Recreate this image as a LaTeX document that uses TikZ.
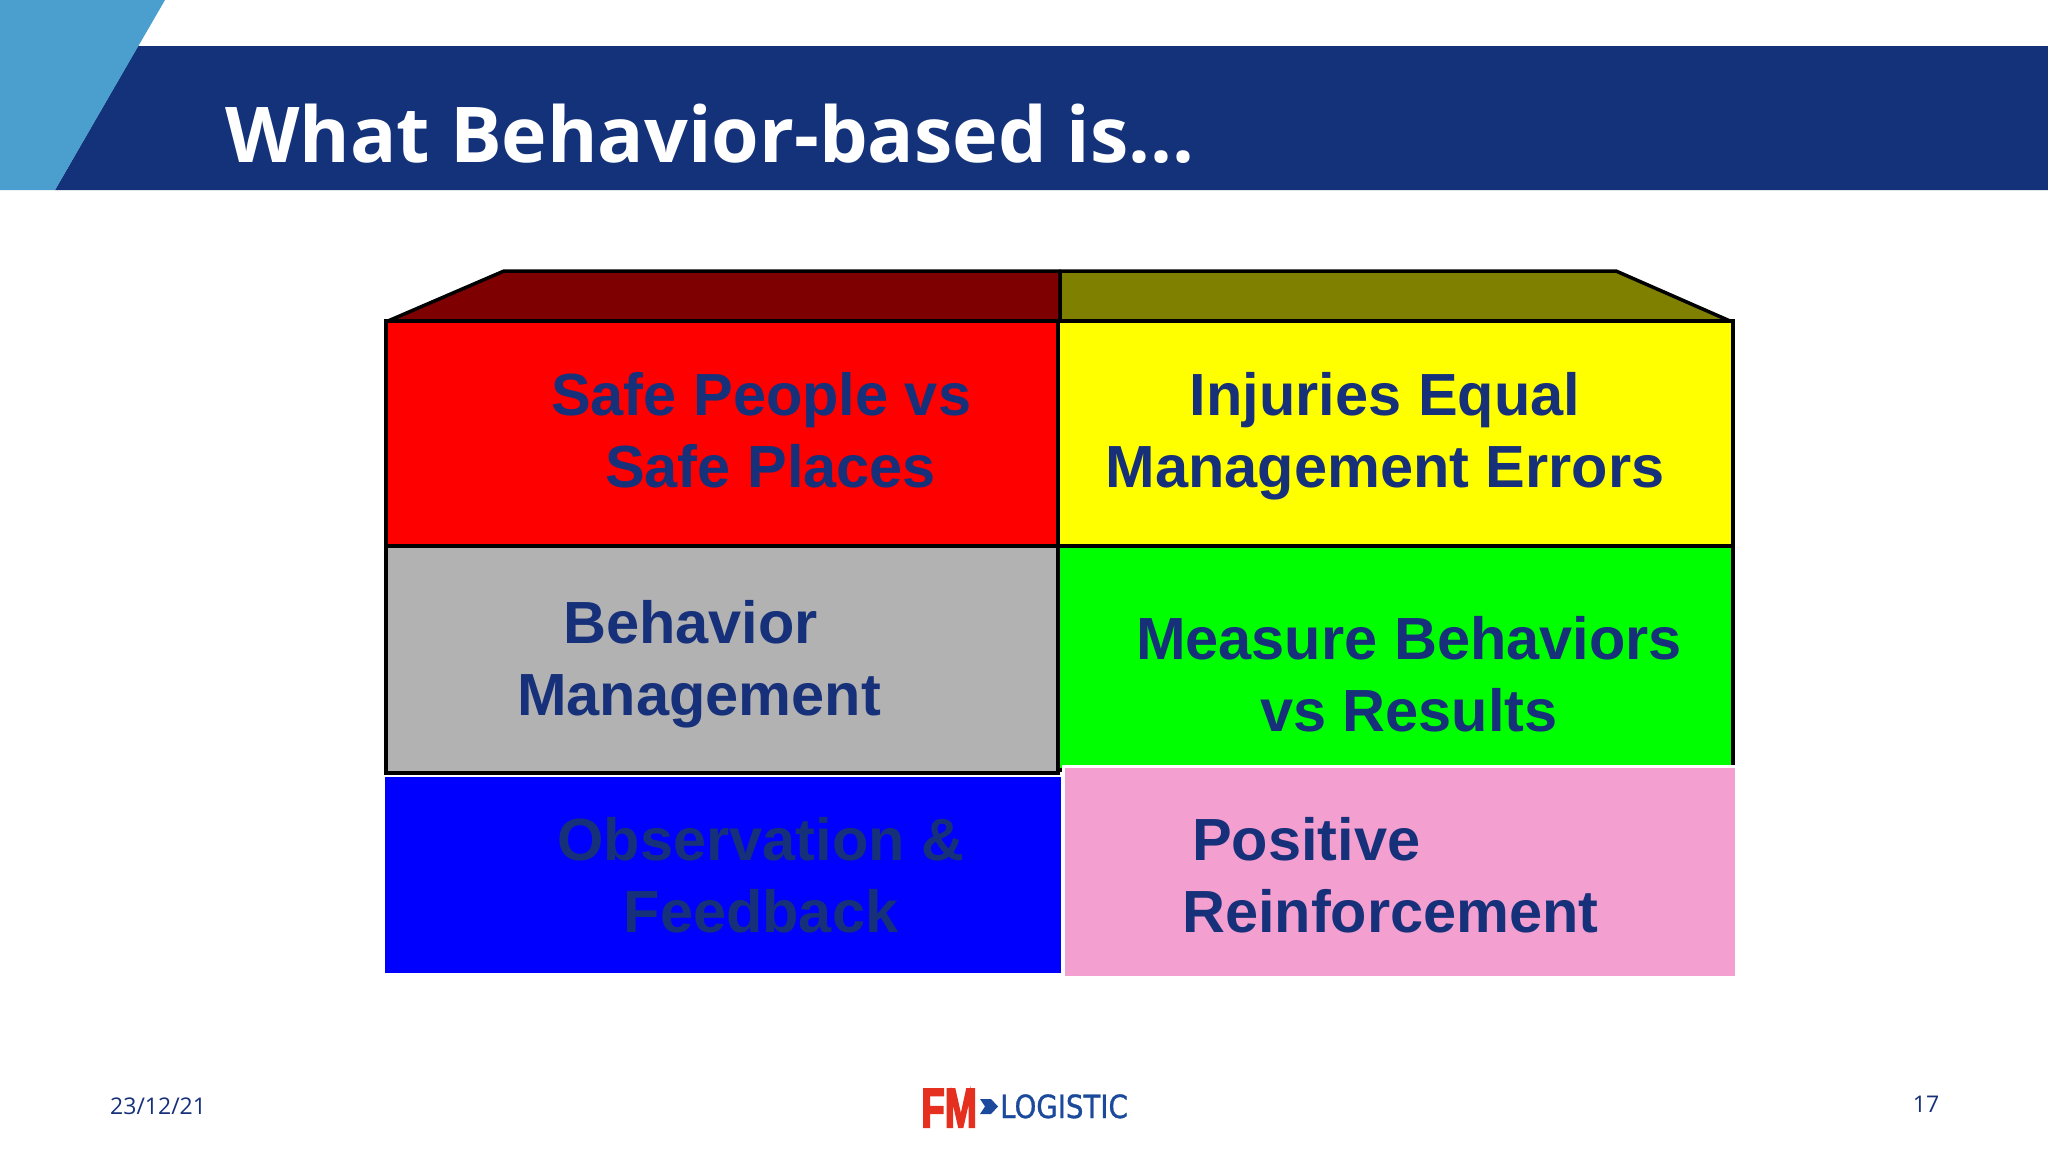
\documentclass[tikz,border=0pt]{standalone}
\usepackage{fontspec}
\setmainfont{Liberation Sans}
\newfontfamily\titlefont{Open Sans}
\newfontfamily\logofont[FakeBold=4]{Liberation Sans}
\newfontfamily\logothin[FakeBold=1]{DejaVu Sans}
\definecolor{bandblue}{HTML}{13327A}
\definecolor{lightblue}{HTML}{4A9FCE}
\definecolor{textblue}{HTML}{17307A}
\definecolor{darkred}{HTML}{7F0000}
\definecolor{olive}{HTML}{7F7F00}
\definecolor{cellred}{HTML}{FF0000}
\definecolor{cellyellow}{HTML}{FFFF00}
\definecolor{cellgreen}{HTML}{00FF00}
\definecolor{cellblue}{HTML}{0000FF}
\definecolor{cellgray}{HTML}{B2B2B2}
\definecolor{cellpink}{HTML}{F39FCF}
\definecolor{logored}{HTML}{E5301F}
\definecolor{logoblue}{HTML}{1B4A9C}
\tikzset{
	cell/.style={draw=black,line width=3.5pt,line join=miter},
	lid/.style={draw=black,line width=3.5pt,line join=bevel},
	open/.style={draw=white,line width=3pt},
	lbl/.style={inner sep=0pt,text=textblue,font=\fontsize{59.5}{72}\selectfont\bfseries},
	foot/.style={inner sep=0pt,text=textblue,font=\titlefont\fontsize{23}{27}\selectfont}
}
\begin{document}
\begin{tikzpicture}[x=1pt,y=-1pt]
	\useasboundingbox (0,0) rectangle (2048,1152);
	\fill[white] (0,0) rectangle (2048,1152);
	% header
	\fill[bandblue] (138,46)--(2048,46)--(2048,190)--(55,190)--cycle;
	\fill[lightblue] (0,0)--(165,0)--(55,190)--(0,190)--cycle;
	\draw (225,162) node[anchor=base west,inner sep=0pt,text=white,font=\titlefont\fontsize{77}{90}\selectfont\bfseries] (title) {What Behavior-based is...};
	% top of the box
	\draw[lid,fill=darkred] (388,321)--(504,271)--(1060,271)--(1060,321)--cycle;
	\draw[lid,fill=olive] (1060,321)--(1060,271)--(1616,271)--(1730,321)--cycle;
	% cells
	\draw[cell,fill=cellred] (386,321) rectangle (1058,546);
	\draw[cell,fill=cellyellow] (1058,321) rectangle (1733,546);
	\draw[cell,fill=cellgreen] (1058,546) rectangle (1733,770);
	\draw[cell,fill=cellgray] (386,546) rectangle (1058,773);
	\fill[cellblue] (385,777) rectangle (1061,973);
	\draw[open,fill=cellpink] (1063,766) rectangle (1736,977);
	% labels
	\draw (551,430) node[lbl,anchor=west,align=left] (safe) {Safe People vs\\\hspace*{54pt}Safe Places};
	\draw (1385,436) node[lbl,align=center] (injuries) {Injuries Equal\\Management Errors};
	\draw (517,664) node[lbl,anchor=west,align=left] (behavior) {\hspace*{46pt}Behavior\\Management};
	\draw (1409,674) node[lbl,align=center] (measure) {Measure Behaviors\\vs Results};
	\draw (761,875) node[lbl,align=center] (observation) {Observation \&\\Feedback};
	\draw (1182,875) node[lbl,anchor=west,align=left] (positive) {\hspace*{10pt}Positive\\Reinforcement};
	% footer
	\draw (110,1106) node[foot,anchor=west] (date) {23/12/21};
	\draw (1926,1104) node[foot] (page) {17};
	\draw (949,1127) node[anchor=base,inner sep=0pt,text=logored,font=\logofont\fontsize{55}{55}\selectfont\bfseries,xscale=0.70] (fm) {FM};
	\fill[logoblue] (980,1099)--(991,1099)--(998,1106.5)--(991,1114)--(980,1114)--(985,1106.5)--cycle;
	\draw (1000,1118) node[anchor=base west,inner sep=0pt,text=logoblue,font=\logothin\fontsize{32}{32}\selectfont,xscale=0.864] (logistic) {LOGISTIC};
\end{tikzpicture}
\end{document}
